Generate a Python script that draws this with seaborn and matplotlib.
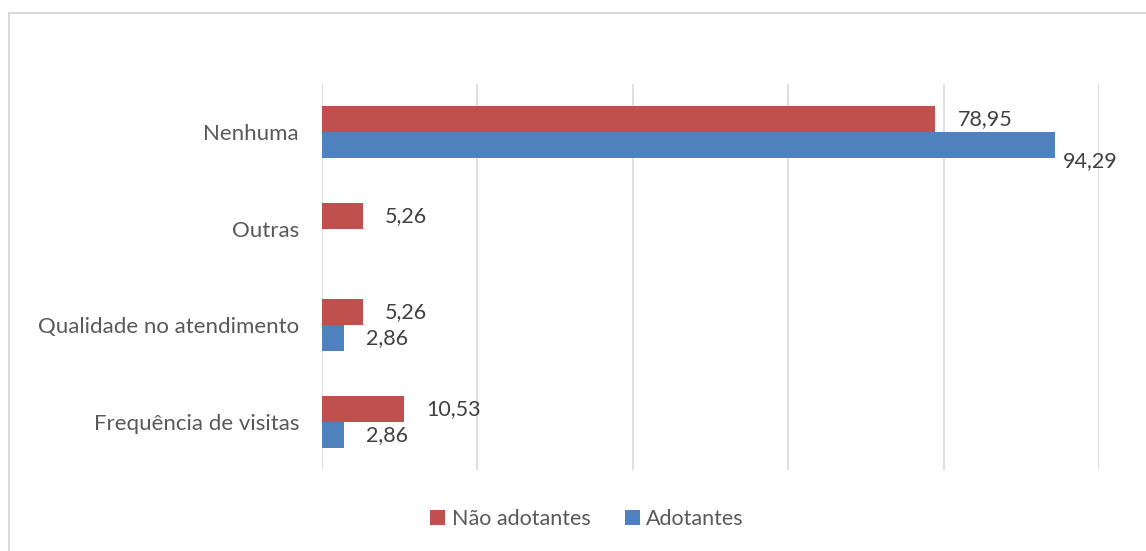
import numpy as np
import pandas as pd
import matplotlib
matplotlib.use("Agg")
import matplotlib.pyplot as plt
from matplotlib.patches import Rectangle
import seaborn as sns

categorias = ["Nenhuma", "Outras", "Qualidade no atendimento", "Frequência de visitas"]
nao_adotantes = [78.95, 5.26, 5.26, 10.53]
adotantes = [94.29, np.nan, 2.86, 2.86]
series = ["Não adotantes", "Adotantes"]
cores = ["#C0504D", "#4F81BD"]

sns.set_style("white")
plt.rcParams["font.family"] = ["Lato", "DejaVu Sans"]
cinza = "#595959"

df = pd.DataFrame({
    "categoria": categorias * 2,
    "valor": nao_adotantes + adotantes,
    "serie": [series[0]] * len(categorias) + [series[1]] * len(categorias),
})
df = df.dropna()

fig = plt.figure(figsize=(11.46, 5.51), dpi=100)
ax = fig.add_axes([322 / 1146, 1 - 470 / 551, (1099 - 322) / 1146, (470 - 84) / 551])

sns.barplot(data=df, y="categoria", x="valor", hue="serie", order=categorias,
            hue_order=series, palette=cores, orient="h", width=0.54,
            saturation=1, ax=ax, legend=True, edgecolor="none")

ax.set_xlim(0, 100)
ax.set_ylim(3.5, -0.5)
ax.set_xticks(np.arange(0, 101, 20))
ax.set_xticklabels([])
ax.grid(axis="x", color="#D9D9D9", linewidth=1.2)
ax.set_axisbelow(True)
for s in ax.spines.values():
    s.set_visible(False)
ax.tick_params(axis="both", length=0)
ax.tick_params(axis="y", labelsize=16, labelcolor=cinza, pad=16.5)
ax.set_xlabel("")
ax.set_ylabel("")

# rótulos de dados
for cont in ax.containers:
    for barra in cont:
        v = barra.get_width()
        if not np.isfinite(v) or v == 0:
            continue
        txt = f"{v:.2f}".replace(".", ",")
        y = barra.get_y() + barra.get_height() / 2
        if v > 90:
            off = (6, -11.5)
        else:
            off = (16, 0)
        ax.annotate(txt, (v, y), xytext=off, textcoords="offset points",
                    ha="left", va="center", fontsize=15.5, color="#404040")

leg = ax.legend(loc="center", bbox_to_anchor=(587 / 1146, 1 - 519 / 551),
                bbox_transform=fig.transFigure, ncol=2, frameon=False,
                fontsize=15.5, handlelength=0.7, handleheight=0.7,
                handletextpad=0.3, columnspacing=1.6)
for t in leg.get_texts():
    t.set_color(cinza)

fig.patches.append(Rectangle((9 / 1146, -0.05), 1.2, 1 - 13 / 551 + 0.05,
                             transform=fig.transFigure, fill=False,
                             edgecolor="#D9D9D9", linewidth=1.5))

fig.savefig("out.png", dpi=100)
